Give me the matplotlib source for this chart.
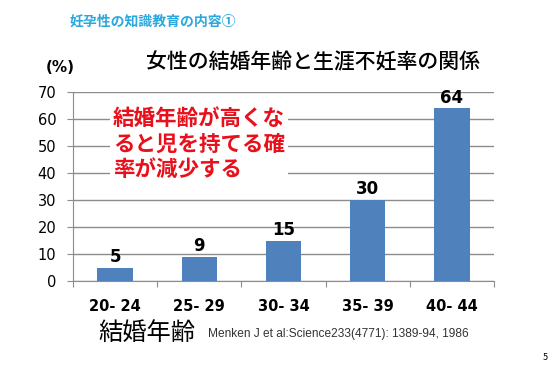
import matplotlib.pyplot as plt
from numpy import arange

plt.rcParams['font.family'] = ['Noto Sans CJK JP', 'DejaVu Sans']

age_groups = ['20- 24', '25- 29', '30- 34', '35- 39', '40- 44']
infertility = [5, 9, 15, 30, 64]
yticks = [0, 10, 20, 30, 40, 50, 60, 70]

fig = plt.figure(figsize=(5.6, 3.7), dpi=100)
ax = fig.add_axes([73/560, 1-281/370, 421/560, 189/370])

x = arange(len(age_groups))
ax.bar(x, infertility, width=0.42, color='#4f81bd', zorder=3)
for xi, v in zip(x, infertility):
    ax.text(xi, v + 0.6, str(v), ha='center', va='bottom', fontsize=12,
            fontweight='bold', family='DejaVu Sans', zorder=4)

ax.set_xlim(-0.5, len(age_groups) - 0.5)
ax.set_ylim(0, 70)
ax.set_yticks(yticks)
ax.set_yticklabels([str(t) for t in yticks], fontsize=10.5, family='DejaVu Sans')
ax.yaxis.grid(True, color='#8c8c8c', linewidth=1.0, zorder=0)
ax.set_axisbelow(True)

# category boundary ticks
ax.set_xticks(arange(len(age_groups) + 1) - 0.5)
ax.set_xticklabels([])
ax.tick_params(axis='x', length=4, color='#8c8c8c', direction='out')
ax.tick_params(axis='y', length=4, color='#8c8c8c', direction='out', pad=8)
for xi, lab in zip(x, age_groups):
    ax.text(xi, -6.5, lab, ha='center', va='top', fontsize=10.5,
            fontweight='bold', family='DejaVu Sans')

for s in ['top', 'right']:
    ax.spines[s].set_visible(False)
for s in ['left', 'bottom']:
    ax.spines[s].set_color('#8c8c8c')

fig.text(70/560, 1-22/370, '妊孕性の知識教育の内容①', fontsize=10, color='#2aa7de',
         fontweight='bold', va='center')
fig.text(313/560, 1-62/370, '女性の結婚年齢と生涯不妊率の関係', fontsize=15,
         ha='center', va='center', fontweight='medium')
fig.text(60/560, 1-68/370, '(%)', fontsize=11, fontweight='bold', ha='center',
         va='center', family='DejaVu Sans')

fig.text(113/560, 1-144/370, '結婚年齢が高くな\nると児を持てる確\n率が減少する',
         fontsize=15.5, color='#e8101a', fontweight='bold', va='center', ha='left',
         linespacing=1.25,
         bbox=dict(facecolor='white', edgecolor='none', pad=2))

fig.text(98/560, 1-333/370, '結婚年齢', fontsize=17.5, va='center')
fig.text(208/560, 1-334/370, 'Menken J et al:Science233(4771): 1389-94, 1986',
         fontsize=8.6, va='center', color='#333333', family='Liberation Sans')
fig.text(545/560, 1-357/370, '5', fontsize=6.5, va='center', ha='center')

fig.savefig('out.png', dpi=100)
